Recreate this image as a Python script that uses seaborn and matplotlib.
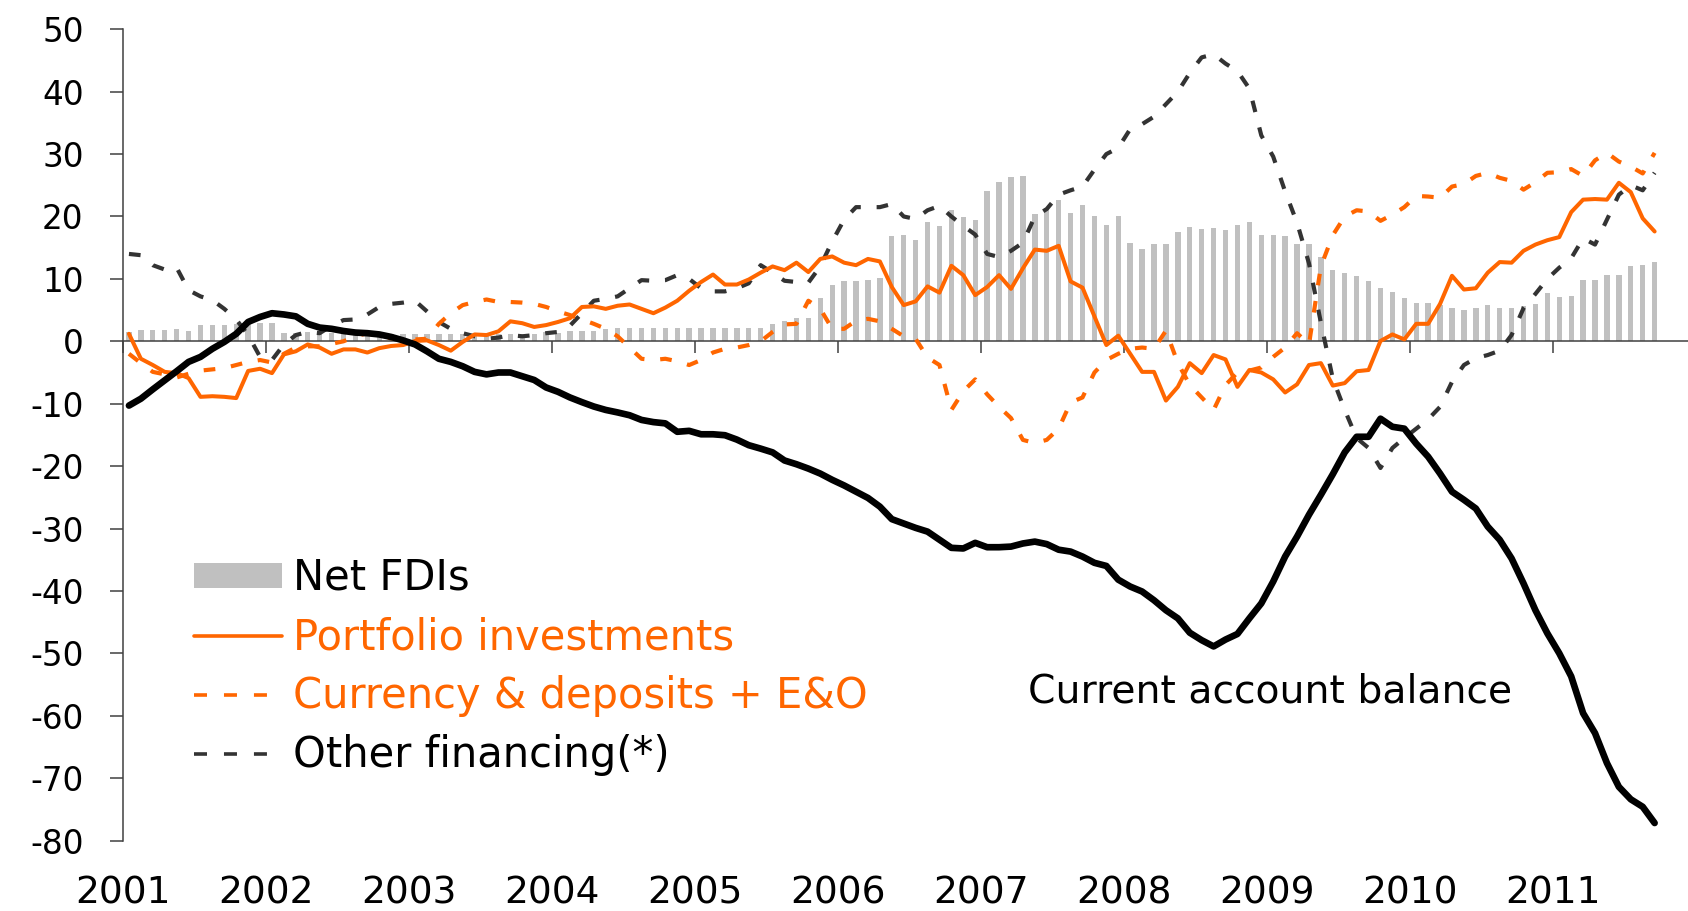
import numpy as np
import pandas as pd
import matplotlib
matplotlib.use("Agg")
import matplotlib.pyplot as plt
from matplotlib.lines import Line2D
from matplotlib.patches import Patch
import seaborn as sns

# Monthly data, Jan 2001 - Sep 2011
years = [2001, 2002, 2003, 2004, 2005, 2006, 2007, 2008, 2009, 2010, 2011]

net_fdi = [
    1.5, 1.8, 1.8, 1.8, 1.9, 1.6, 2.6, 2.6, 2.6, 2.8, 2.8, 2.9,
    2.9, 1.3, 1.4, 1.5, 1.5, 1.3, 1.3, 1.3, 1.2, 1.2, 1.1, 1.1,
    1.1, 1.1, 1.1, 1.1, 1.1, 1.1, 1.1, 1.1, 1.1, 1.1, 1.1, 1.5,
    1.3, 1.6, 1.6, 1.6, 1.9, 2.1, 2.2, 2.1, 2.1, 2.2, 2.1, 2.1,
    2.1, 2.1, 2.1, 2.2, 2.2, 2.1, 2.7, 3.2, 3.7, 3.7, 6.9, 9.0,
    9.6, 9.6, 9.8, 10.1, 16.8, 17.1, 16.3, 19.1, 18.5, 21.0, 19.9, 19.4,
    24.1, 25.5, 26.3, 26.5, 20.4, 21.2, 22.6, 20.6, 21.8, 20.1, 18.6, 20.1,
    15.8, 14.8, 15.6, 15.6, 17.5, 18.3, 18.0, 18.2, 17.8, 18.6, 19.1, 17.0,
    17.0, 16.9, 15.6, 15.6, 13.5, 11.5, 10.9, 10.5, 9.6, 8.5, 7.9, 6.9,
    6.1, 6.1, 5.8, 5.3, 5.0, 5.3, 5.8, 5.4, 5.3, 5.6, 5.9, 7.7,
    7.1, 7.2, 9.8, 9.9, 10.6, 10.6, 12.0, 12.2, 12.7,
]

portfolio = [
    1.2, -2.8, -3.8, -4.9, -5.1, -5.9, -8.9, -8.8, -8.9, -9.1, -4.75, -4.4,
    -5.1, -2.1, -1.6, -0.5, -1.0, -2.0, -1.3, -1.3, -1.8, -1.1, -0.75, -0.6,
    0.05, 0.15, -0.6, -1.5, -0.1, 1.1, 1.0, 1.6, 3.2, 2.9, 2.3, 2.6,
    3.1, 3.7, 5.5, 5.6, 5.2, 5.7, 5.9, 5.2, 4.5, 5.4, 6.5, 8.1,
    9.5, 10.7, 9.1, 9.1, 9.9, 11.0, 12.0, 11.4, 12.6, 11.1, 13.2, 13.6,
    12.6, 12.2, 13.2, 12.8, 8.7, 5.8, 6.4, 8.8, 7.8, 12.1, 10.6, 7.4,
    8.7, 10.6, 8.4, 11.7, 14.7, 14.5, 15.3, 9.6, 8.6, 4.0, -0.6, 0.9,
    -2.0, -4.9, -4.9, -9.5, -7.3, -3.5, -5.1, -2.2, -2.9, -7.3, -4.6, -5.0,
    -6.1, -8.2, -6.9, -3.8, -3.5, -7.1, -6.7, -4.8, -4.6, 0.05, 1.1, 0.3,
    2.8, 2.8, 6.0, 10.5, 8.3, 8.5, 11.0, 12.7, 12.6, 14.5, 15.5, 16.2,
    16.7, 20.7, 22.7, 22.8, 22.7, 25.4, 23.9, 19.7, 17.6,
]

currency_deposits = [
    -2.0, -3.5, -4.9, -5.3, -5.8, -5.2, -4.7, -4.5, -4.3, -3.8, -3.3, -3.0,
    -3.4, -2.0, -1.0, -0.8, -0.8, -0.4, 0.0, 0.8, 1.3, 0.8, 0.5, 0.4,
    0.3, 0.4, 2.8, 4.5, 5.8, 6.3, 6.7, 6.3, 6.3, 6.2, 6.0, 5.5,
    4.8, 4.2, 3.5, 2.8, 2.0, 0.8, -1.0, -2.8, -3.0, -2.8, -3.2, -3.8,
    -3.0, -1.8, -1.2, -1.0, -0.6, 0.0, 1.5, 2.7, 2.8, 6.5, 5.2, 2.0,
    2.0, 3.3, 3.6, 3.2, 2.0, 0.8, 0.4, -2.6, -3.8, -11.0, -8.0, -6.1,
    -8.5, -10.5, -12.3, -15.8, -16.3, -15.8, -14.0, -9.8, -9.0, -5.0, -3.0, -2.0,
    -1.2, -1.0, -1.2, 1.7, -3.5, -7.0, -9.0, -11.0, -7.0, -5.0, -4.7, -4.2,
    -2.5, -1.0, 1.3, -0.5, 12.0, 17.0, 20.0, 21.0, 20.8, 19.3, 20.3, 21.5,
    23.3, 23.2, 23.0, 24.8, 25.2, 26.5, 27.0, 26.2, 25.7, 24.3, 25.5, 27.0,
    27.1, 27.6, 26.5, 29.0, 30.2, 28.8, 28.0, 26.9, 30.2,
]

other_financing = [
    14.0, 13.8, 12.2, 11.5, 11.8, 8.2, 7.2, 6.6, 5.2, 3.5, 1.0, -2.5,
    -3.0, -0.5, 1.0, 1.5, 1.3, 2.5, 3.4, 3.5, 4.3, 5.5, 6.0, 6.2,
    6.5, 4.8, 3.1, 2.0, 1.3, 0.8, 0.4, 0.6, 1.0, 0.8, 1.0, 1.3,
    1.5, 2.5, 4.5, 6.5, 6.8, 7.2, 8.5, 9.8, 9.7, 9.8, 10.6, 10.0,
    8.5, 8.0, 8.0, 8.5, 9.3, 12.2, 11.0, 9.7, 9.5, 9.4, 12.0, 16.0,
    19.5, 21.5, 21.5, 21.5, 22.0, 20.0, 19.6, 21.0, 21.7, 20.0, 18.5, 17.1,
    14.0, 13.5, 14.5, 15.8, 20.0, 21.2, 23.5, 24.2, 24.8, 27.5, 30.0, 31.0,
    34.0, 34.8, 36.0, 38.0, 40.0, 43.0, 45.5, 46.0, 44.5, 43.3, 40.5, 33.0,
    29.6, 24.0, 19.0, 12.5, 3.0, -6.0, -11.0, -15.5, -17.1, -20.3, -17.1, -15.5,
    -14.0, -12.5, -10.5, -6.5, -3.8, -2.7, -2.2, -1.5, 1.0, 5.3, 7.6, 10.0,
    11.8, 13.3, 16.5, 15.5, 19.5, 23.5, 25.0, 24.2, 27.0,
]

current_account = [
    -10.3, -9.2, -7.7, -6.25, -4.8, -3.3, -2.5, -1.2, -0.1, 1.2, 3.1, 3.9,
    4.5, 4.3, 4.0, 2.8, 2.2, 2.0, 1.65, 1.4, 1.3, 1.1, 0.7, 0.15,
    -0.5, -1.6, -2.8, -3.3, -4.0, -4.9, -5.3, -5.0, -5.0, -5.6, -6.2, -7.4,
    -8.1, -9.0, -9.75, -10.45, -11.0, -11.4, -11.85, -12.6, -12.95, -13.15, -14.5, -14.35,
    -14.9, -14.9, -15.05, -15.75, -16.65, -17.2, -17.8, -19.1, -19.7, -20.4, -21.2, -22.2,
    -23.1, -24.1, -25.1, -26.5, -28.5, -29.2, -29.9, -30.5, -31.8, -33.1, -33.2, -32.3,
    -33.0, -33.0, -32.9, -32.4, -32.1, -32.5, -33.4, -33.7, -34.5, -35.5, -36.0, -38.2,
    -39.3, -40.1, -41.5, -43.1, -44.4, -46.7, -47.9, -48.9, -47.8, -46.9, -44.4, -42.0,
    -38.5, -34.5, -31.3, -27.8, -24.6, -21.3, -17.8, -15.3, -15.3, -12.4, -13.7, -14.0,
    -16.4, -18.5, -21.2, -24.1, -25.4, -26.8, -29.7, -31.8, -34.8, -38.8, -43.1, -46.8,
    -50.0, -53.7, -59.6, -62.8, -67.6, -71.4, -73.4, -74.6, -77.2,
]

df = pd.DataFrame({
    "month": np.arange(len(current_account)),
    "net_fdi": net_fdi,
    "portfolio": portfolio,
    "currency": currency_deposits,
    "other": other_financing,
    "current": current_account,
})

ORANGE = "#FF6600"
DARK = "#333333"
GREY = "#C0C0C0"
AXIS = "#404040"

sns.set_style("white")
plt.rcParams["font.family"] = ["DejaVu Sans"]
plt.rcParams["axes.unicode_minus"] = False
plt.rcParams["text.color"] = "black"

fig = plt.figure(figsize=(16.88, 9.11), dpi=100)
ax = fig.add_axes([123 / 1688, 1 - 840.5 / 911, 1 - 123 / 1688, (840.5 - 29.3) / 911])

# bars
sns.barplot(data=df, x="month", y="net_fdi", native_scale=True, width=0.45,
            color=GREY, saturation=1, errorbar=None, linewidth=0, ax=ax)

# lines
sns.lineplot(data=df, x="month", y="other", ax=ax, color=DARK, lw=3.0,
             linestyle=(0, (2.8, 3.8)), zorder=3)
sns.lineplot(data=df, x="month", y="currency", ax=ax, color=ORANGE, lw=3.0,
             linestyle=(0, (2.8, 3.8)), zorder=3)
sns.lineplot(data=df, x="month", y="portfolio", ax=ax, color=ORANGE, lw=2.9, zorder=4)
sns.lineplot(data=df, x="month", y="current", ax=ax, color="black", lw=4.8, zorder=5)

ax.text(75.4, -56.2, "Current account balance", fontsize=28.3, ha="left", va="center",
        color="black")

# axes styling
ax.set_xlim(-0.5, 130.8)
ax.set_ylim(-80, 50)
ax.set_xlabel("")
ax.set_ylabel("")
ax.set_yticks(np.arange(-80, 51, 10))
ax.set_xticks(np.arange(0, 12 * len(years), 12) - 0.5)
ax.set_xticklabels([str(y) for y in years])

for s in ["top", "right"]:
    ax.spines[s].set_visible(False)
ax.spines["bottom"].set_position(("data", 0))
for s in ["left", "bottom"]:
    ax.spines[s].set_color(AXIS)
    ax.spines[s].set_linewidth(1.1)
    ax.spines[s].set_zorder(2.5)

ax.tick_params(axis="y", direction="out", length=9.4, width=1.1, color=AXIS,
               labelsize=23.5, pad=19, left=True, labelcolor="black")
ax.tick_params(axis="x", direction="out", length=8.6, width=1.1, color=AXIS,
               labelsize=27, pad=376, bottom=True, labelcolor="black")

handles = [
    Patch(facecolor=GREY, edgecolor="none"),
    Line2D([], [], color=ORANGE, lw=2.6),
    Line2D([], [], color=ORANGE, lw=2.6, linestyle=(0, (3.6, 4.7))),
    Line2D([], [], color=DARK, lw=2.6, linestyle=(0, (3.6, 4.7))),
]
labels = ["Net FDIs", "Portfolio investments", "Currency & deposits + E&O", "Other financing(*)"]
ax.legend(handles, labels, loc="upper left", bbox_to_anchor=(194 / 1688, 1 - 557 / 911),
          bbox_transform=fig.transFigure, frameon=False, fontsize=30,
          handlelength=2.11, handletextpad=0.26, labelspacing=0.41, handleheight=0.53,
          borderpad=0, borderaxespad=0,
          labelcolor=["black", ORANGE, ORANGE, "black"])

fig.savefig("out.png", dpi=100)
